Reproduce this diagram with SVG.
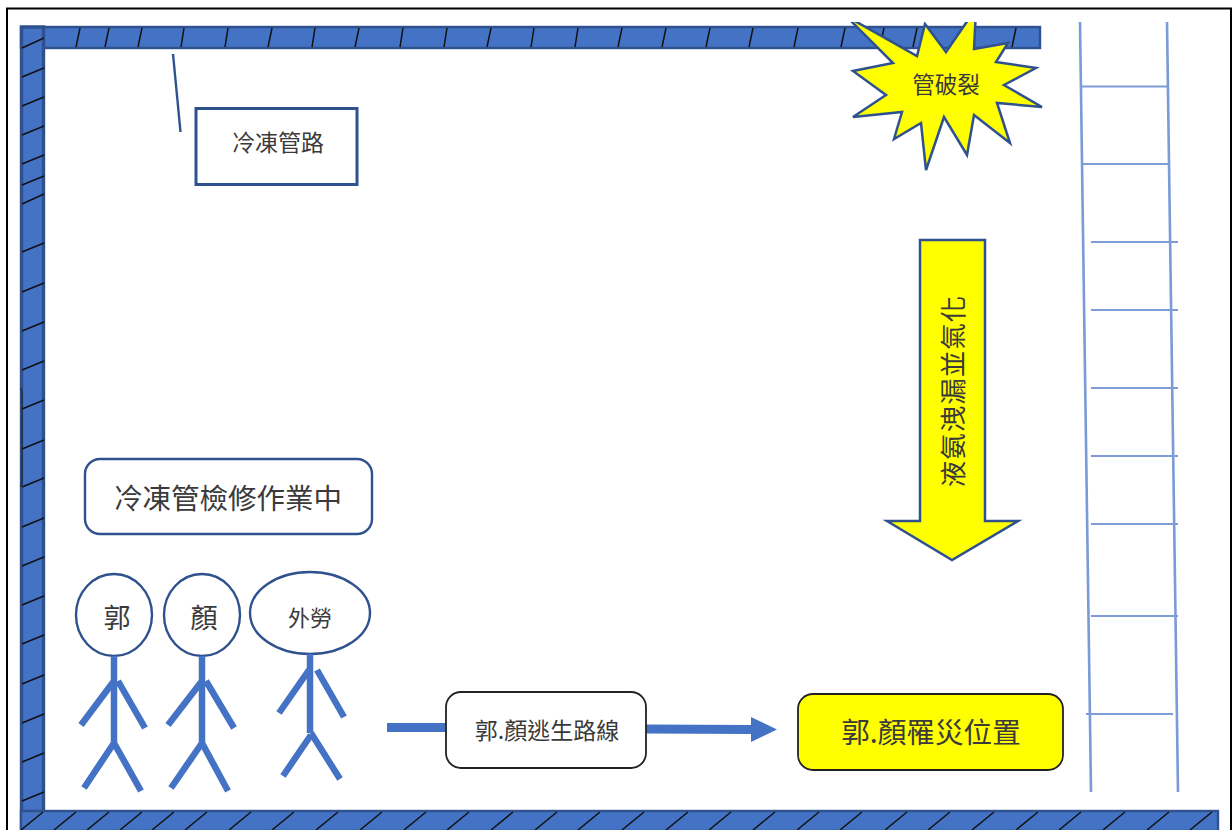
<svg xmlns="http://www.w3.org/2000/svg" width="1232" height="830" viewBox="0 0 1232 830">
<defs><clipPath id="cut"><rect x="800" y="22" width="300" height="200"/></clipPath></defs>
<style>
text{font-family:"Noto Sans CJK TC","Noto Sans CJK SC",sans-serif;text-anchor:middle;fill:#3a3a3a}
.wall{fill:#4472c4;stroke:#2f528f;stroke-width:2.400}
.tick{stroke:#111;stroke-width:1.500;fill:none}
.ol{stroke:#2f528f;fill:#fff;stroke-width:2.400}
.body{stroke:#4472c4;stroke-width:6.500;fill:none}
.rung{stroke:#7e9cd8;stroke-width:2.200;fill:none}
.rail{stroke:#7b9ad8;stroke-width:2.600;fill:none}
</style>
<rect width="1232" height="830" fill="#fff"/>
<path id="frame" d="M7 830V8.500H1231V830" fill="none" stroke="#000" stroke-width="2"/>
<g id="walls">
<rect class="wall" x="21" y="27" width="1019" height="21"/>
<rect class="wall" x="21.500" y="27" width="22" height="803" style="stroke-width:3.400"/>
<rect class="wall" x="21" y="811" width="1197" height="20"/>
<path class="tick" d="M80 28L76 47M109 28L105 47M142 28L138 47M184 28L181 47M228 28L225 47M272 28L268 47M315 28L312 47M359 28L355 47M403 28L400 47M447 28L444 47M491 28L487 47M534 28L531 47M578 28L575 47M622 28L618 47M666 28L662 47M710 28L706 47M753 28L749 47M798 28L794 47M845 28L841 47M884 28L880 47M917 28L913 47M1016 28L1012 47"/>
<path class="tick" d="M22 48L44 38M22 77L44 68M22 106L44 97M22 135L44 126M22 164L44 155M22 185L44 176M22 204L44 194M22 252L44 243M22 292L44 283M22 331L44 322M22 370L44 361M22 409L44 400M22 449L44 440M22 487L44 478M22 527L44 518M22 566L44 557M22 605L44 596M22 644L44 635M22 684L44 675M22 723L44 714M22 762L44 753M22 801L44 792"/>
<path class="tick" d="M43 812L21 830M76 812L54 830M109 812L87 830M142 812L120 830M174 812L152 830M207 812L185 830M251 812L229 830M294 812L272 830M338 812L316 830M382 812L360 830M426 812L404 830M469 812L447 830M513 812L491 830M557 812L535 830M600 812L578 830M644 812L622 830M688 812L666 830M731 812L709 830M775 812L753 830M819 812L797 830M862 812L840 830M907 812L885 830M950 812L928 830M994 812L972 830M1038 812L1016 830M1081 812L1059 830M1125 812L1103 830M1169 812L1147 830M1212 812L1190 830"/>
<path d="M20 388Q22 388 22 395V480Q22 486 20 486" fill="none" stroke="#222" stroke-width="1.200"/>
</g>
<g id="connectors">
<line x1="173" y1="54" x2="180.500" y2="132" stroke="#2f528f" stroke-width="2.400"/>
<line x1="387" y1="727.500" x2="446" y2="727.500" stroke="#4472c4" stroke-width="9"/>
<path d="M646 724.500L751 725V717L777 729.500L751 742V734L646 733.500Z" fill="#4472c4"/>
</g>
<g id="pipe-label"><rect class="ol" x="196" y="108.500" width="161" height="76" style="stroke-width:3"/><text x="278" y="151" font-size="23">冷凍管路</text></g>
<g id="burst"><path clip-path="url(#cut)" d="M846 16L893 63L853 71L886 95L853 117L902 112L894 139L921 123L926 170L944 117L967 155L974 115L1010 143L997 103L1042 107L1004 85L1036 68L996 62L1008 43L974 49L976 10L975 10L946 52L925 24L917 56Z" fill="#ff0" stroke="#2f528f" stroke-width="2.500"/><text x="946" y="93" font-size="22.500">管破裂</text></g>
<g id="leak-arrow"><path d="M920 240H985V521H1018L952 560L887 521H920Z" fill="#ff0" stroke="#2f528f" stroke-width="2.500"/><text transform="translate(963 391) rotate(-90)" font-size="26.500" letter-spacing="1">液氨洩漏並氣化</text></g>
<g id="work-label"><rect class="ol" x="85" y="459" width="287" height="75" rx="15"/><text x="228" y="509" font-size="28.500">冷凍管檢修作業中</text></g>
<g id="person-guo"><ellipse class="ol" cx="114" cy="615" rx="38" ry="41"/><text x="117" y="628" font-size="27">郭</text><path class="body" d="M114 656V743M114 681L81 725M118 681L145 728M114 743L84 788M114 743L141 791"/></g>
<g id="person-yan"><ellipse class="ol" cx="202" cy="615" rx="38" ry="41"/><text x="204" y="628" font-size="27">顏</text><path class="body" d="M202 656V743M202 681L168 725M206 681L234 728M202 743L171 788M202 743L228 791"/></g>
<g id="person-contractor"><ellipse class="ol" cx="310" cy="613" rx="60" ry="41"/><text x="310" y="626" font-size="22">外勞</text><path class="body" d="M310 654V733M309 670L279 713M317 670L344 717M311 735L283 776M311 733L340 779"/></g>
<g id="escape-label"><rect x="446" y="692" width="200" height="76" rx="15" fill="#fff" stroke="#222" stroke-width="1.800"/><text x="547" y="739" font-size="23">郭.顏逃生路線</text></g>
<g id="victim-location"><rect x="798" y="694" width="265" height="76" rx="15" fill="#ff0" stroke="#222" stroke-width="1.800"/><text x="931" y="743" font-size="28.600">郭.顏罹災位置</text></g>
<g id="ladder">
<path class="rail" d="M1080 22L1091 792M1167 22L1178 792"/>
<path class="rung" d="M1081 86.500H1168M1081 164H1168M1091 242H1178M1091 310H1178M1091 388H1178M1091 456H1178M1091 524H1178M1091 616H1178M1086 714H1173"/>
</g>
</svg>
